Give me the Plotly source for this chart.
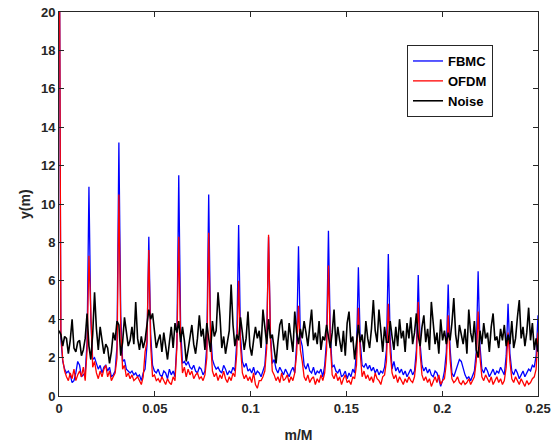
import plotly.graph_objects as go

M = 1024
m_index = list(range(257))

fbmc = [
    30, 3.0, 1.8, 1.4, 1.2, 1.3, 1.1, 0.7, 0.8, 1.2, 1.8, 1.6, 1.0, 1.1, 1.2, 2.8,
    10.9, 4.0, 1.9, 2.0, 1.7, 1.4, 1.6, 1.2, 1.5, 1.6, 1.3, 1.5, 1.0, 1.1, 1.3, 2.6,
    13.2, 4.2, 1.8, 1.9, 1.4, 1.3, 1.2, 1.3, 1.1, 1.2, 1.0, 1.1, 0.8, 1.2, 1.4, 2.6,
    8.3, 3.2, 1.6, 1.3, 1.2, 1.4, 1.1, 1.0, 1.3, 1.2, 0.9, 1.4, 1.1, 1.3, 1.0, 2.8,
    11.5, 3.6, 1.7, 1.8, 1.6, 1.8, 1.5, 1.4, 1.6, 1.3, 1.2, 1.5, 1.4, 1.1, 1.3, 2.6,
    10.5, 3.4, 1.9, 1.6, 1.4, 1.5, 1.3, 1.2, 1.6, 1.4, 1.1, 1.3, 1.2, 1.5, 1.3, 2.8,
    8.9, 3.1, 1.8, 1.5, 1.7, 1.3, 1.4, 1.2, 1.5, 1.1, 1.3, 1.2, 1.0, 1.3, 1.6, 3.0,
    8.3, 3.3, 1.7, 1.9, 1.4, 1.2, 1.5, 1.3, 1.1, 1.4, 1.2, 1.0, 1.3, 1.5, 1.2, 2.7,
    7.8, 3.0, 2.6, 1.6, 1.4, 1.7, 1.3, 1.2, 1.5, 1.1, 1.3, 1.2, 1.4, 1.0, 1.6, 2.9,
    8.6, 3.2, 1.5, 1.6, 1.3, 1.2, 1.4, 1.0, 1.1, 1.3, 0.9, 1.2, 1.0, 1.4, 1.2, 2.3,
    6.7, 2.8, 1.6, 1.5, 1.7, 1.4, 1.6, 1.3, 1.5, 1.2, 1.4, 1.1, 1.3, 1.2, 1.5, 2.4,
    7.4, 3.0, 1.4, 1.8, 1.3, 1.5, 1.2, 1.4, 1.1, 1.3, 1.0, 1.2, 1.4, 1.1, 1.3, 2.4,
    6.3, 2.7, 1.6, 1.3, 1.5, 1.2, 1.4, 1.1, 1.0, 1.3, 1.2, 0.9, 0.5, 0.8, 1.3, 2.3,
    5.8, 2.5, 1.2, 1.0, 1.3, 1.6, 1.9, 1.8, 1.4, 1.1, 0.9, 1.0, 0.8, 1.1, 1.3, 2.3,
    6.5, 2.6, 1.4, 1.2, 1.5, 1.3, 1.0, 1.2, 1.4, 1.1, 1.3, 1.2, 1.5, 1.3, 1.1, 2.1,
    4.8, 2.2, 1.3, 1.1, 1.4, 1.2, 0.9, 1.1, 1.3, 1.0, 1.2, 1.4, 1.3, 1.6, 1.5, 2.1,
    4.2,
]

ofdm = [
    30, 3.3, 1.9, 1.3, 1.0, 0.8, 1.2, 0.9, 1.4, 0.8, 1.1, 1.3, 1.0, 1.5, 0.8, 2.4,
    7.3, 4.4, 1.5, 1.8, 1.2, 0.9, 1.3, 1.0, 1.4, 1.6, 1.0, 1.3, 0.8, 1.0, 1.2, 2.0,
    10.5, 3.5, 1.4, 1.6, 1.0, 1.2, 0.9, 1.1, 0.8, 0.9, 1.0, 0.8, 0.6, 1.0, 2.3, 2.8,
    7.6, 2.6, 1.0, 1.1, 0.8, 0.9, 0.7, 1.0, 0.8, 0.6, 0.9, 0.7, 0.6, 1.0, 0.8, 2.5,
    8.3, 2.8, 1.2, 1.5, 1.0, 1.4, 1.1, 1.3, 0.9, 1.1, 1.2, 0.9, 1.0, 0.8, 1.1, 2.0,
    8.5, 2.9, 1.3, 1.0, 1.2, 0.8, 1.1, 0.9, 1.3, 0.9, 0.7, 1.0, 0.8, 1.2, 1.0, 2.2,
    6.0, 2.6, 1.2, 0.9, 1.1, 0.8, 1.0, 0.7, 1.2, 0.6, 0.4, 0.8, 0.8, 1.0, 1.3, 2.5,
    8.4, 3.0, 1.3, 1.1, 0.8, 1.0, 0.7, 1.2, 0.8, 0.9, 1.1, 0.7, 1.0, 0.8, 1.2, 2.2,
    4.7, 2.4, 1.8, 1.0, 0.8, 1.1, 0.7, 0.9, 1.0, 0.6, 0.9, 0.7, 1.1, 0.8, 1.2, 2.4,
    6.8, 2.7, 1.1, 0.9, 1.2, 0.8, 1.0, 0.6, 0.9, 1.1, 0.7, 0.8, 0.6, 1.0, 0.9, 1.6,
    4.6, 2.2, 1.0, 1.3, 0.9, 1.1, 0.8, 1.0, 0.7, 1.2, 0.9, 0.8, 0.6, 1.0, 1.1, 1.8,
    4.8, 2.3, 1.2, 0.9, 1.1, 0.7, 1.0, 0.8, 0.6, 0.9, 0.7, 1.0, 0.8, 0.7, 1.0, 1.9,
    4.9, 2.2, 1.1, 0.8, 1.0, 0.7, 0.9, 0.5, 0.8, 1.0, 0.7, 1.1, 0.6, 0.8, 0.9, 1.7,
    4.2, 1.9, 0.9, 0.7, 0.8, 1.0, 0.7, 0.6, 0.8, 0.6, 0.7, 0.9, 0.6, 0.8, 1.0, 1.8,
    4.4, 2.0, 1.0, 0.8, 1.1, 0.9, 0.7, 1.0, 0.6, 0.8, 1.0, 0.7, 0.9, 0.6, 0.8, 1.5,
    3.3, 1.8, 0.9, 0.7, 1.0, 0.8, 0.6, 0.9, 0.7, 0.5, 0.8, 0.6, 0.7, 0.9, 1.0, 1.4,
    3.3,
]

noise = [
    3.4, 3.2, 2.6, 3.1, 3.0, 2.2, 2.9, 4.0, 2.5, 2.3, 2.8, 2.9, 2.1, 2.4, 3.0, 4.3,
    2.6, 1.9, 3.2, 5.4, 3.5, 2.4, 3.6, 2.9, 2.2, 2.7, 2.5, 1.7, 2.3, 3.3, 2.9, 3.9,
    3.7, 2.1, 2.8, 4.1, 3.3, 2.6, 2.9, 3.6, 2.7, 4.9, 3.0, 2.4, 3.1, 2.5, 2.9, 3.8,
    4.5, 4.0, 4.3, 3.4, 2.5, 2.9, 3.2, 2.3, 3.3, 2.6, 1.9, 2.8, 3.6, 2.5, 3.8, 3.3,
    3.9, 2.8, 3.6, 2.9, 1.8, 2.4, 3.1, 3.7, 2.7, 2.2, 3.0, 4.2, 3.1, 3.5, 2.4, 3.8,
    3.0, 2.3, 3.9, 3.1, 3.4, 5.4, 4.2, 2.5, 3.1, 2.2, 2.8, 3.4, 5.8, 3.7, 2.6, 3.2,
    2.9, 4.1, 3.3, 2.4, 3.0, 4.4, 2.6, 2.1, 2.9, 3.6, 3.0, 3.4, 2.5, 4.5, 3.6, 2.7,
    4.0, 3.0, 3.2, 2.3, 1.7, 2.8, 3.7, 4.0, 2.9, 3.4, 2.4, 3.8, 3.1, 2.3, 4.4, 3.3,
    2.7, 3.5, 3.0, 3.9, 3.3, 2.6, 3.6, 4.5, 2.9, 3.3, 2.7, 3.9, 2.4, 3.1, 2.9, 3.7,
    3.1, 2.5, 3.3, 4.5, 2.6, 3.6, 2.9, 2.3, 3.4, 2.1, 3.8, 4.4, 2.8, 3.1, 1.9, 2.9,
    3.7, 2.8, 3.2, 2.3, 3.9, 3.0, 2.5, 3.5, 5.0, 3.4, 2.8, 4.5, 3.3, 2.3, 3.6, 2.8,
    2.8, 3.9, 3.1, 2.4, 3.6, 2.6, 4.0, 3.0, 3.4, 2.3, 3.8, 3.0, 4.1, 2.7, 3.3, 4.3,
    3.1, 2.6, 3.6, 4.2, 2.8, 3.5, 2.4, 4.9, 3.8, 2.7, 3.3, 2.2, 4.0, 2.9, 3.4, 2.7,
    3.3, 2.9, 3.8, 5.1, 3.2, 2.5, 3.7, 3.1, 2.7, 3.5, 2.2, 4.5, 3.3, 2.8, 3.9, 2.4,
    2.0, 3.4, 2.7, 3.8, 3.0, 3.3, 2.3, 3.6, 4.3, 2.9, 3.1, 2.5, 3.5, 2.9, 3.7, 2.6,
    3.2, 2.7, 3.9, 2.5, 3.0, 4.1, 5.0, 3.0, 3.6, 2.6, 3.3, 4.6, 2.9, 3.8, 2.4, 3.0,
    2.3,
]

x_tickvals = [0, 0.05, 0.1, 0.15, 0.2, 0.25]
x_ticktext = ["0", "0.05", "0.1", "0.15", "0.2", "0.25"]
y_tickvals = [0, 2, 4, 6, 8, 10, 12, 14, 16, 18, 20]

x = [k / M for k in m_index]

FONT = "Liberation Sans, Arial, Helvetica, sans-serif"

fig = go.Figure()
fig.add_trace(go.Scatter(x=x, y=fbmc, mode="lines", name="FBMC",
                         line=dict(color="#0000FF", width=1.3)))
fig.add_trace(go.Scatter(x=x, y=ofdm, mode="lines", name="OFDM",
                         line=dict(color="#FF0000", width=1.3)))
fig.add_trace(go.Scatter(x=x, y=noise, mode="lines", name="Noise",
                         line=dict(color="#000000", width=1.6)))

axis_common = dict(
    showgrid=False, zeroline=False, showline=True, linecolor="#262626",
    linewidth=1, mirror="ticks", ticks="inside", ticklen=5, tickcolor="#262626",
    automargin=False,
    tickfont=dict(family=FONT, size=13, color="#262626", weight="bold"),
)

fig.update_layout(
    width=558, height=445,
    margin=dict(l=59, r=20, t=12, b=49),
    paper_bgcolor="white", plot_bgcolor="white",
    xaxis=dict(range=[0, 0.25], tickvals=x_tickvals, ticktext=x_ticktext,
               title=dict(text="m/M",
                          font=dict(family=FONT, size=14, color="#262626", weight="bold")),
               **axis_common),
    yaxis=dict(range=[0, 20], tickvals=y_tickvals, **axis_common),
    legend=dict(x=0.7265, y=0.914, xanchor="left", yanchor="top",
                bgcolor="white", bordercolor="#262626", borderwidth=1,
                font=dict(family=FONT, size=13, color="#000000", weight="bold"),
                tracegroupgap=0, itemwidth=30),
    showlegend=True,
    annotations=[dict(text="y(m)", xref="paper", yref="paper", x=-0.071, y=0.5,
                      xanchor="center", yanchor="middle", textangle=-90,
                      showarrow=False,
                      font=dict(family=FONT, size=14, color="#262626", weight="bold"))],
)

fig.write_html("out.html", config={"displayModeBar": False},
               post_script="document.body.style.margin='0';document.body.style.padding='0';")
